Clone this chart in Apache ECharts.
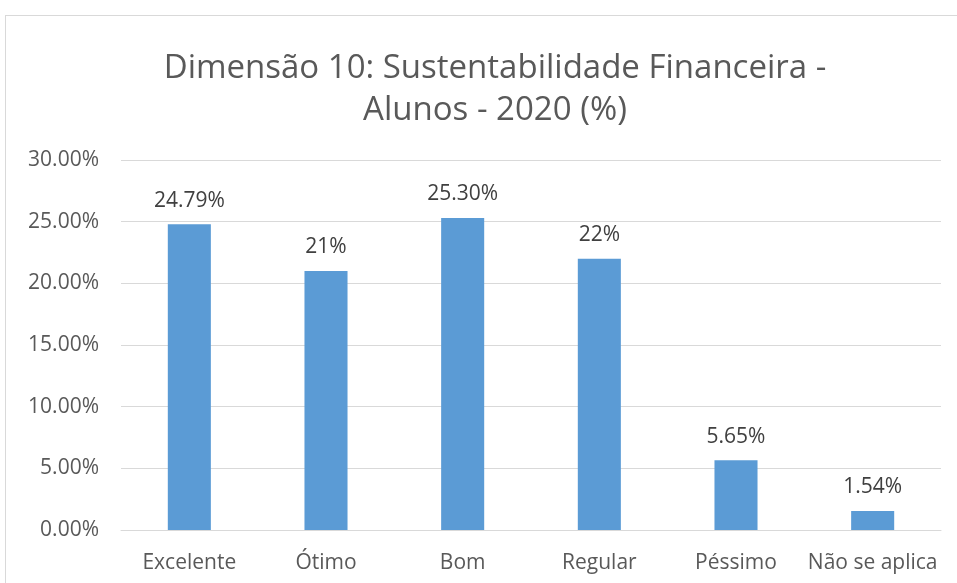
<!DOCTYPE html>
<html>
<head>
<meta charset="utf-8">
<script src="https://cdn.jsdelivr.net/npm/echarts@6/dist/echarts.min.js"></script>
<style>
  html, body { margin: 0; padding: 0; background: #fff; }
  #frame { position: absolute; left: 5px; top: 15px; width: 1000px; height: 620px; border: 1px solid #d9d9d9; box-sizing: border-box; }
  #chart { position: absolute; left: 0; top: 0; width: 957px; height: 583px; }
</style>
</head>
<body>
<div id="frame"></div>
<div id="chart"></div>
<script>
// Categories and percentage values
const categories = ['Excelente', 'Ótimo', 'Bom', 'Regular', 'Péssimo', 'Não se aplica'];
const values = [24.79, 21, 25.30, 22, 5.65, 1.54];
// Decimal places used by each bar's label
const labelDecimals = [2, 0, 2, 0, 2, 2];
const yTicks = { min: 0, max: 30, interval: 5 };

const font = '"Open Sans", "Noto Sans", sans-serif';
const chart = echarts.init(document.getElementById('chart'), null, { renderer: 'canvas' });

chart.setOption({
  animation: false,
  title: {
    text: 'Dimensão 10: Sustentabilidade Financeira -\nAlunos - 2020 (%)',
    left: 490,
    textAlign: 'center',
    top: 43,
    textStyle: { fontFamily: font, fontSize: 33, fontWeight: 'normal', color: '#595959', lineHeight: 42 }
  },
  grid: { left: 121, right: 16, top: 160, bottom: 53, containLabel: false },
  xAxis: {
    type: 'category',
    data: categories,
    axisLine: { show: true, lineStyle: { color: '#d9d9d9', width: 1 } },
    axisTick: { show: false },
    axisLabel: { interval: 0, fontFamily: font, fontSize: 21, color: '#595959', margin: 23 }
  },
  yAxis: {
    type: 'value',
    min: yTicks.min,
    max: yTicks.max,
    interval: yTicks.interval,
    axisLine: { show: false },
    axisTick: { show: false },
    splitLine: { lineStyle: { color: '#d9d9d9', width: 1 } },
    axisLabel: {
      fontFamily: font, fontSize: 21, color: '#595959', margin: 22,
      formatter: v => v.toFixed(2) + '%'
    }
  },
  series: [{
    type: 'bar',
    data: values,
    barWidth: '31.5%',
    itemStyle: { color: '#5b9bd5' },
    label: {
      show: true,
      position: 'top',
      distance: 13,
      fontFamily: font,
      fontSize: 21,
      color: '#404040',
      formatter: p => p.value.toFixed(labelDecimals[p.dataIndex]) + '%'
    }
  }]
});
</script>
</body>
</html>
